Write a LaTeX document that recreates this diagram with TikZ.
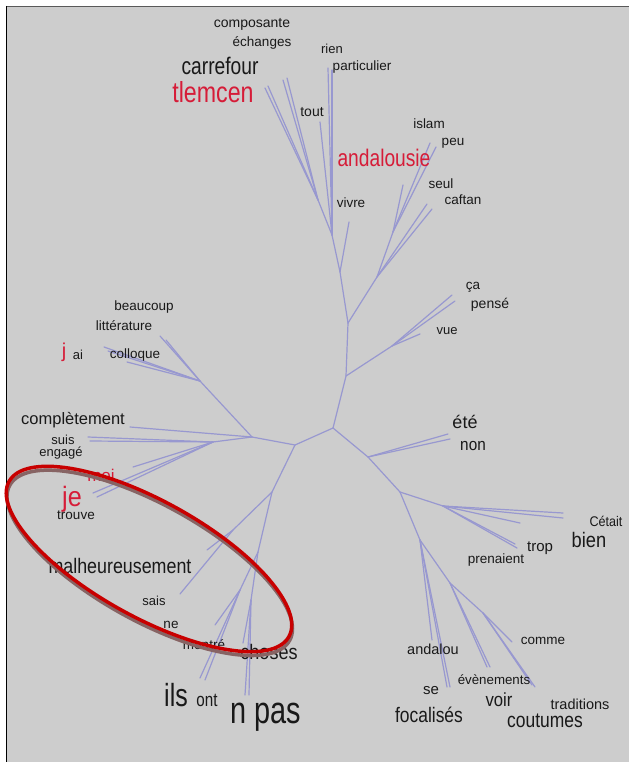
\documentclass[tikz,border=0pt]{standalone}
\usepackage{fontspec}
\usepackage{graphicx}
\setmainfont{Liberation Sans}
\definecolor{bgg}{RGB}{205,205,205}
\definecolor{ink}{RGB}{25,25,25}
\definecolor{redw}{RGB}{214,28,56}
\definecolor{br}{RGB}{152,152,208}
\definecolor{ell}{RGB}{200,0,0}
\definecolor{shd}{RGB}{135,100,100}
\newcommand\tw[3]{\scalebox{#2}[1]{\fontsize{#1pt}{#1pt}\selectfont #3}}
\begin{document}
\begin{tikzpicture}[x=1pt,y=-1pt,
  lbl/.style={inner sep=0pt,text=ink},
  rl/.style={inner sep=0pt,text=redw},
  branch/.style={draw=br,line width=1.2pt,line cap=round}]
\useasboundingbox (0,0) rectangle (629,762);
\fill[white] (0,0) rectangle (629,762);
\fill[bgg] (6,6) rectangle (629,762);
\draw[gray!70!black,line width=1.5pt] (6,6.5) -- (629,6.5);
\draw[black,line width=1.6pt] (6.5,6) -- (6.5,762);

% junctions and leaf ends
\coordinate (C) at (333,428);
\coordinate (A1) at (346,376);
\coordinate (V0) at (392,346);
\coordinate (Vca) at (452,295);
\coordinate (Vpe) at (455,301);
\coordinate (Vvu) at (420,334);
\coordinate (A2) at (348,323);
\coordinate (P) at (377,277);
\coordinate (Q) at (393,232);
\coordinate (Pis) at (430,143);
\coordinate (Ppe) at (436,147);
\coordinate (Pan) at (403,185);
\coordinate (Pse) at (427,204);
\coordinate (Pca) at (432,209);
\coordinate (T1) at (340,272);
\coordinate (Tvi) at (349,222);
\coordinate (T2) at (332,235);
\coordinate (Tri) at (328,68);
\coordinate (Tpa) at (332,70);
\coordinate (Tto) at (320,122);
\coordinate (T4) at (318,200);
\coordinate (Ttl) at (265,88);
\coordinate (Ttm) at (268,86);
\coordinate (Tca) at (283,80);
\coordinate (Tcr) at (287,78);
\coordinate (L1) at (295,445);
\coordinate (L2) at (252,437);
\coordinate (J1) at (200,381);
\coordinate (Jb) at (160,336);
\coordinate (Jl) at (166,340);
\coordinate (Jj) at (104,347);
\coordinate (Ja) at (108,351);
\coordinate (Jc) at (127,362);
\coordinate (Lco) at (130,427);
\coordinate (K) at (213,442);
\coordinate (Ksu) at (88,437);
\coordinate (Ken) at (90,441);
\coordinate (Kmo) at (133,467);
\coordinate (Kje) at (93,493);
\coordinate (Ktr) at (97,497);
\coordinate (M1) at (272,492);
\coordinate (M2) at (233,530);
\coordinate (Mma) at (207,550);
\coordinate (Msa) at (180,594);
\coordinate (M3) at (258,552);
\coordinate (M4) at (240,590);
\coordinate (Mne) at (215,625);
\coordinate (Mil) at (200,678);
\coordinate (Mon) at (205,680);
\coordinate (M5) at (251,600);
\coordinate (Mch) at (243,643);
\coordinate (Mn) at (245,695);
\coordinate (Mpa) at (249,695);
\coordinate (R1) at (368,457);
\coordinate (Rete) at (448,434);
\coordinate (Rnon) at (450,439);
\coordinate (R2) at (400,492);
\coordinate (R3) at (443,506);
\coordinate (Rce) at (563,513);
\coordinate (Rbi) at (563,518);
\coordinate (Rx) at (520,523);
\coordinate (Rtr) at (515,544);
\coordinate (Rpr) at (517,548);
\coordinate (R4) at (420,540);
\coordinate (Ran) at (432,640);
\coordinate (Rse) at (447,687);
\coordinate (Rfo) at (450,687);
\coordinate (R5) at (450,583);
\coordinate (Rev) at (487,667);
\coordinate (Rev2) at (490,667);
\coordinate (R6) at (483,613);
\coordinate (Rco) at (512,642);
\coordinate (Rvo) at (532,685);
\coordinate (Rcu) at (535,687);

% branches
\path[branch] (C) -- (A1) -- (A2);
\path[branch] (A1) -- (V0) -- (Vca);
\path[branch] (V0) -- (Vpe);
\path[branch] (V0) -- (Vvu);
\path[branch] (A2) -- (P) -- (Q) -- (Pis);
\path[branch] (Q) -- (Ppe);
\path[branch] (Q) -- (Pan);
\path[branch] (P) -- (Pse);
\path[branch] (P) -- (Pca);
\path[branch] (A2) -- (T1) -- (T2) -- (Tri);
\path[branch] (T1) -- (Tvi);
\path[branch] (T2) -- (Tpa);
\path[branch] (T2) -- (Tto);
\path[branch] (T2) -- (T4) -- (Ttl);
\path[branch] (T4) -- (Ttm);
\path[branch] (T4) -- (Tca);
\path[branch] (T4) -- (Tcr);
\path[branch] (C) -- (L1) -- (L2) -- (J1) -- (Jb);
\path[branch] (J1) -- (Jl);
\path[branch] (J1) -- (Jj);
\path[branch] (J1) -- (Ja);
\path[branch] (J1) -- (Jc);
\path[branch] (L2) -- (Lco);
\path[branch] (L2) -- (K) -- (Ksu);
\path[branch] (K) -- (Ken);
\path[branch] (K) -- (Kmo);
\path[branch] (K) -- (Kje);
\path[branch] (K) -- (Ktr);
\path[branch] (L1) -- (M1) -- (M2) -- (Mma);
\path[branch] (M2) -- (Msa);
\path[branch] (M1) -- (M3) -- (M4) -- (Mne);
\path[branch] (M4) -- (Mil);
\path[branch] (M4) -- (Mon);
\path[branch] (M3) -- (M5) -- (Mch);
\path[branch] (M5) -- (Mn);
\path[branch] (M5) -- (Mpa);
\path[branch] (C) -- (R1) -- (Rete);
\path[branch] (R1) -- (Rnon);
\path[branch] (R1) -- (R2) -- (R3) -- (Rce);
\path[branch] (R3) -- (Rbi);
\path[branch] (R3) -- (Rx);
\path[branch] (R3) -- (Rtr);
\path[branch] (R3) -- (Rpr);
\path[branch] (R2) -- (R4) -- (Ran);
\path[branch] (R4) -- (Rse);
\path[branch] (R4) -- (Rfo);
\path[branch] (R4) -- (R5) -- (Rev);
\path[branch] (R5) -- (Rev2);
\path[branch] (R5) -- (R6) -- (Rco);
\path[branch] (R6) -- (Rvo);
\path[branch] (R6) -- (Rcu);

% labels
\node[lbl] (w1) at (252,24) {\tw{14}{1}{composante}};
\node[lbl] (w2) at (262,43) {\tw{13.5}{1}{échanges}};
\node[lbl] (w3) at (332,49) {\tw{13}{1}{rien}};
\node[lbl] (w4) at (362,67) {\tw{13.5}{1}{particulier}};
\node[lbl] (w5) at (220,66) {\tw{24}{0.8}{carrefour}};
\node[rl] (w6) at (213,92) {\tw{29}{0.8}{tlemcen}};
\node[lbl] (w7) at (312,112) {\tw{14}{1}{tout}};
\node[lbl] (w8) at (429,124) {\tw{13.5}{1}{islam}};
\node[rl] (w9) at (384,158) {\tw{24}{0.8}{andalousie}};
\node[lbl] (w10) at (351,203) {\tw{13.5}{1}{vivre}};
\node[lbl] (w11) at (453,143) {\tw{13.5}{1}{peu}};
\node[lbl] (w12) at (441,184) {\tw{13.5}{1}{seul}};
\node[lbl] (w13) at (463,200) {\tw{13.5}{1}{caftan}};
\node[lbl] (w14) at (473,287) {\tw{13.5}{1}{ça}};
\node[lbl] (w15) at (490,305) {\tw{14}{1}{pensé}};
\node[lbl] (w16) at (447,331) {\tw{13}{1}{vue}};
\node[lbl] (w17) at (144,307) {\tw{13.5}{1}{beaucoup}};
\node[lbl] (w18) at (124,326) {\tw{13.5}{1}{littérature}};
\node[rl] (w19) at (64,352) {\tw{20}{1}{j}};
\node[lbl] (w20) at (78,355) {\tw{13}{1}{ai}};
\node[lbl] (w21) at (135,355) {\tw{13.5}{1}{colloque}};
\node[lbl] (w22) at (73,420) {\tw{16.5}{1}{complètement}};
\node[lbl] (w23) at (63,440) {\tw{13}{1}{suis}};
\node[lbl] (w24) at (61,453) {\tw{13}{1}{engagé}};
\node[rl] (w25) at (101,475) {\tw{17}{1}{moi}};
\node[rl] (w26) at (72,499) {\tw{28}{0.9}{je}};
\node[lbl] (w27) at (76,515) {\tw{13.5}{1}{trouve}};
\node[lbl] (w28) at (120,566) {\tw{21}{0.85}{malheureusement}};
\node[lbl] (w29) at (154,601) {\tw{13}{1}{sais}};
\node[lbl] (w30) at (171,625) {\tw{13.5}{1}{ne}};
\node[lbl] (w31) at (204,645) {\tw{13.5}{1}{montré}};
\node[lbl] (w32) at (269,652) {\tw{21}{0.86}{choses}};
\node[lbl] (w33) at (176,695) {\tw{32}{0.78}{ils}};
\node[lbl] (w34) at (207,700) {\tw{19}{0.8}{ont}};
\node[lbl] (w35) at (266,717) {\tw{38}{0.76}{n pas}};
\node[lbl] (w36) at (465,422) {\tw{18}{1}{été}};
\node[lbl] (w37) at (473,446) {\tw{17}{0.9}{non}};
\node[lbl] (w38) at (606,521) {\tw{14}{0.9}{Cétait}};
\node[lbl] (w39) at (589,540) {\tw{21}{0.87}{bien}};
\node[lbl] (w40) at (540,548) {\tw{15}{1}{trop}};
\node[lbl] (w41) at (496,560) {\tw{13.5}{1}{prenaient}};
\node[lbl] (w42) at (543,641) {\tw{13.5}{1}{comme}};
\node[lbl] (w43) at (433,649) {\tw{14.5}{1}{andalou}};
\node[lbl] (w44) at (494,680) {\tw{13.3}{1}{évènements}};
\node[lbl] (w45) at (431,691) {\tw{15}{1}{se}};
\node[lbl] (w46) at (499,700) {\tw{19}{0.88}{voir}};
\node[lbl] (w47) at (580,704) {\tw{14.5}{1}{traditions}};
\node[lbl] (w48) at (429,715) {\tw{21}{0.83}{focalisés}};
\node[lbl] (w49) at (545,721) {\tw{21}{0.83}{coutumes}};

% highlight ellipse
\coordinate (E) at (149,559);
\draw[shd,line width=3.5pt,rotate around={-29:(E)}] ([shift={(2.5pt,-3pt)}]E) ellipse [x radius=160pt,y radius=58pt];
\draw[ell,line width=3.5pt,rotate around={-29:(E)}] (E) ellipse [x radius=160pt,y radius=58pt];
\end{tikzpicture}
\end{document}
